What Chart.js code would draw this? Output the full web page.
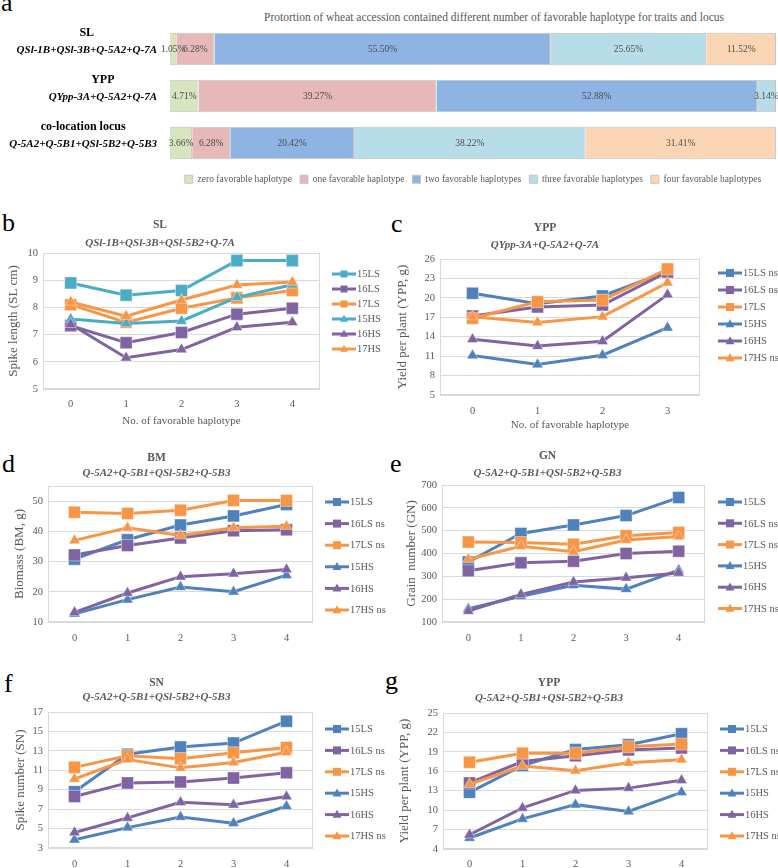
<!DOCTYPE html>
<html>
<head>
<meta charset="utf-8">
<script src="https://cdn.jsdelivr.net/npm/chart.js@4/dist/chart.umd.min.js"></script>
<style>
  html, body { margin: 0; padding: 0; background: #fff; }
  #page { position: relative; width: 778px; height: 868px; overflow: hidden; font-family: "Liberation Serif", serif; }
  canvas, .tag, .note { position: absolute; }
  .tag { font-size: 26px; line-height: 26px; color: #000; }
  .note { font-size: 11.5px; line-height: 12px; color: #595959; white-space: nowrap; }
</style>
</head>
<body>
<div id="page">
  <div class="tag" style="left:1px;top:-10px">a</div>
  <div class="tag" style="left:2px;top:210px">b</div>
  <div class="tag" style="left:391px;top:211px">c</div>
  <div class="tag" style="left:2px;top:451px">d</div>
  <div class="tag" style="left:390px;top:451px">e</div>
  <div class="tag" style="left:4px;top:671px">f</div>
  <div class="tag" style="left:385px;top:668px">g</div>
  <div class="note" style="left:264px;top:11px">Protortion of wheat accession contained different number of favorable haplotype for traits and locus</div>
</div>
<script>
// ---- panel a: share of accessions (%) ----
const haploTraits = ['SL', 'YPP', 'co-location locus'];
const haploLoci = ['QSl-1B+QSl-3B+Q-5A2+Q-7A', 'QYpp-3A+Q-5A2+Q-7A', 'Q-5A2+Q-5B1+QSl-5B2+Q-5B3'];
const haploGroups = ['zero favorable haplotype', 'one favorable haplotype', 'two favorable haplotypes',
  'three favorable haplotypes', 'four favorable haplotypes'];
const zeroFav = [1.05, 4.71, 3.66];
const oneFav = [6.28, 39.27, 6.28];
const twoFav = [55.50, 52.88, 20.42];
const threeFav = [25.65, 3.14, 38.22];
const fourFav = [11.52, 0, 31.41];
const haploColors = ['#d7e4bd', '#e6b9b8', '#8eb4e3', '#b7dee8', '#fcd5b5'];

// ---- panels b-g: trait means by number of favorable haplotypes ----
const haps5 = ['0', '1', '2', '3', '4'];
const haps4 = ['0', '1', '2', '3'];
const slNames = ['15LS', '16LS', '17LS', '15HS', '16HS', '17HS'];
const yppNames = ['15LS ns', '16LS ns', '17LS', '15HS', '16HS', '17HS ns'];
const locusNames = ['15LS', '16LS ns', '17LS ns', '15HS', '16HS', '17HS ns'];

// series order: 15LS, 16LS, 17LS, 15HS, 16HS, 17HS
const slValues = [
  [8.9, 8.45, 8.62, 9.72, 9.72],
  [7.33, 6.7, 7.08, 7.75, 7.97],
  [8.1, 7.45, 7.97, 8.35, 8.62],
  [7.57, 7.41, 7.5, 8.37, 8.83],
  [7.38, 6.15, 6.45, 7.27, 7.45],
  [8.2, 7.68, 8.27, 8.82, 8.93]
];
const ypp3Values = [
  [20.7, 19.1, 20.3, 24.1],
  [17.2, 18.6, 18.9, 24.0],
  [16.85, 19.4, 19.65, 24.45],
  [11.1, 9.7, 11.15, 15.4],
  [13.6, 12.55, 13.3, 20.5],
  [17.1, 16.2, 17.1, 22.35]
];
const bmValues = [
  [30.8, 37.2, 42.1, 45.1, 48.9],
  [32.2, 35.3, 37.8, 40.2, 40.5],
  [46.3, 45.9, 47.0, 50.2, 50.2],
  [12.7, 17.4, 21.6, 20.0, 25.5],
  [13.2, 19.6, 25.0, 26.0, 27.4],
  [37.0, 41.2, 38.6, 41.2, 41.7]
];
const gnValues = [
  [363, 488, 525, 566, 645],
  [324, 359, 366, 400, 410],
  [450, 448, 441, 478, 492],
  [158, 213, 261, 244, 327],
  [148, 221, 275, 294, 315],
  [375, 432, 408, 459, 474]
];
const snValues = [
  [8.8, 12.65, 13.4, 13.8, 16.05],
  [8.3, 9.7, 9.8, 10.2, 10.75],
  [11.3, 12.5, 12.2, 12.8, 13.35],
  [3.85, 5.1, 6.2, 5.55, 7.3],
  [4.6, 6.1, 7.7, 7.45, 8.3],
  [10.1, 12.1, 11.25, 11.8, 12.85]
];
const ypp4Values = [
  [12.75, 16.9, 19.35, 20.1, 21.8],
  [14.2, 17.5, 18.4, 19.3, 19.6],
  [17.4, 18.8, 18.8, 19.8, 20.2],
  [5.7, 8.65, 10.85, 9.8, 12.75],
  [6.2, 10.35, 13.05, 13.4, 14.6],
  [14.0, 16.8, 16.1, 17.3, 17.8]
];

Chart.defaults.font.family = '"Liberation Serif", "Times New Roman", serif';
Chart.defaults.color = '#595959';

const page = document.getElementById('page');
function addCanvas(left, top, w, h) {
  const cv = document.createElement('canvas');
  cv.width = w; cv.height = h;
  cv.style.left = left + 'px'; cv.style.top = top + 'px';
  cv.style.width = w + 'px'; cv.style.height = h + 'px';
  page.appendChild(cv);
  return cv;
}

// two-line row labels left of the bars
const rowLabels = {
  id: 'rowLabels',
  afterDraw(chart) {
    const ctx = chart.ctx, y = chart.scales.y;
    haploTraits.forEach((t, i) => {
      const yc = y.getPixelForValue(i);
      ctx.save();
      ctx.fillStyle = '#000';
      ctx.textBaseline = 'middle';
      ctx.font = 'bold italic 11px "Liberation Serif"';
      const w = ctx.measureText(haploLoci[i]).width;
      ctx.textAlign = 'right';
      ctx.fillText(haploLoci[i], 157, yc + 1);
      ctx.font = 'bold 12px "Liberation Serif"';
      ctx.textAlign = 'center';
      ctx.fillText(t, 157 - w / 2, yc - 16);
      ctx.restore();
    });
  }
};

// percentages inside each segment
const barValues = {
  id: 'barValues',
  afterDatasetsDraw(chart) {
    const ctx = chart.ctx;
    ctx.save();
    ctx.font = '9.5px "Liberation Serif"';
    ctx.fillStyle = '#4d4d4d';
    ctx.textAlign = 'center';
    ctx.textBaseline = 'middle';
    chart.data.datasets.forEach((ds, i) => {
      chart.getDatasetMeta(i).data.forEach((bar, j) => {
        const v = ds.data[j];
        if (!v) return;
        const c = bar.getCenterPoint();
        ctx.fillText(v.toFixed(2) + '%', c.x, c.y);
      });
    });
    ctx.restore();
  }
};

new Chart(addCanvas(0, 0, 778, 194), {
  type: 'bar',
  data: {
    labels: haploTraits,
    datasets: [zeroFav, oneFav, twoFav, threeFav, fourFav].map((vals, i) => ({
      label: haploGroups[i],
      data: vals,
      backgroundColor: haploColors[i],
      borderColor: '#c4c4c4',
      borderWidth: 1,
      barPercentage: 0.69,
      categoryPercentage: 1
    }))
  },
  options: {
    indexAxis: 'y',
    responsive: false,
    animation: false,
    devicePixelRatio: 1,
    layout: { padding: { left: 170, right: 2, top: 25.5, bottom: 0 } },
    scales: {
      x: { stacked: true, min: 0, max: 100, display: false },
      y: { stacked: true, display: false }
    },
    plugins: {
      legend: {
        position: 'bottom',
        labels: { boxWidth: 8, boxHeight: 8, padding: 8, font: { size: 9.5 }, color: '#595959' }
      },
      tooltip: { enabled: false }
    }
  },
  plugins: [rowLabels, barValues]
});

// light frame round the plot area
const plotFrame = {
  id: 'plotFrame',
  beforeDatasetsDraw(chart) {
    const { ctx, chartArea: a } = chart;
    ctx.save();
    ctx.strokeStyle = '#d9d9d9';
    ctx.lineWidth = 1;
    ctx.strokeRect(Math.round(a.left) + 0.5, Math.round(a.top) + 0.5,
      Math.round(a.right - a.left) - 1, Math.round(a.bottom - a.top) - 1);
    ctx.restore();
  }
};

function drawMarker(ctx, style, x, y, s) {
  ctx.beginPath();
  if (style === 'rect') {
    ctx.rect(x - s / 2, y - s / 2, s, s);
  } else {
    ctx.moveTo(x, y - s * 0.6);
    ctx.lineTo(x + s * 0.55, y + s * 0.4);
    ctx.lineTo(x - s * 0.55, y + s * 0.4);
    ctx.closePath();
  }
  ctx.fill();
}

// Excel-like legend: line with marker, then the name
const sideLegend = {
  id: 'sideLegend',
  afterDraw(chart, args, o) {
    const ctx = chart.ctx;
    ctx.save();
    ctx.font = '10.5px "Liberation Serif"';
    ctx.textBaseline = 'middle';
    chart.data.datasets.forEach((ds, i) => {
      const y = o.y + i * o.step;
      ctx.strokeStyle = ds.borderColor;
      ctx.fillStyle = ds.borderColor;
      ctx.lineWidth = 3;
      ctx.beginPath();
      ctx.moveTo(o.x, y);
      ctx.lineTo(o.x + o.len, y);
      ctx.stroke();
      drawMarker(ctx, ds.pointStyle, o.x + o.len / 2, y, o.mark);
      ctx.fillStyle = '#595959';
      ctx.fillText(ds.label, o.x + o.len + 1, y + 0.5);
    });
    ctx.restore();
  }
};

const blue = '#4f81bd', teal = '#4bacc6', purple = '#8064a2', orange = '#f79646';

function lineChart(p) {
  const bottom = p.top + p.height;
  const colors = [p.first, purple, orange];
  new Chart(addCanvas(p.left, p.top, p.width, p.height), {
    type: 'line',
    data: {
      labels: p.labels,
      datasets: p.names.map((name, i) => ({
        label: name,
        data: p.values[i],
        borderColor: colors[i % 3],
        backgroundColor: colors[i % 3],
        pointBackgroundColor: colors[i % 3],
        pointBorderColor: 'rgba(255,255,255,0.4)',
        pointBorderWidth: 1,
        pointStyle: i < 3 ? 'rect' : 'triangle',
        pointRadius: i < 3 ? 8.5 : 6.5,
        borderWidth: 3,
        order: p.names.length - i
      }))
    },
    options: {
      responsive: false,
      animation: false,
      devicePixelRatio: 1,
      layout: { padding: { left: 0, right: p.left + p.width - p.plot[2], top: 0, bottom: 0 } },
      scales: {
        x: {
          offset: true,
          grid: { display: false, drawTicks: false },
          border: { display: false },
          ticks: { padding: p.xLabelY - p.plot[3] - 5.5, font: { size: 10.5 } },
          title: {
            display: !!p.xTitle, text: p.xTitle, font: { size: 11 },
            padding: { top: 0, bottom: p.xTitle ? bottom - p.xTitleY - 6.6 : 0 }
          },
          afterFit: s => { s.height = bottom - p.plot[3]; }
        },
        y: {
          min: p.min, max: p.max,
          grid: { color: '#d9d9d9', drawTicks: false },
          border: { display: false },
          ticks: { stepSize: p.step, padding: 5, font: { size: 10.5 } },
          title: {
            display: true, text: p.yTitle, font: { size: 13 },
            padding: { top: p.yTitleX - p.left - 7.8, bottom: 0 }
          },
          afterFit: s => { s.width = p.plot[0] - p.left; }
        }
      },
      plugins: {
        legend: { display: false },
        tooltip: { enabled: false },
        title: {
          display: true, text: p.title, color: '#595959',
          font: { size: 11.5, weight: 'bold' },
          padding: { top: p.titleY - p.top - 6.9, bottom: Math.max(0, p.subY - p.titleY - 13.5) }
        },
        subtitle: {
          display: true, text: p.sub, color: '#595959',
          font: { size: 11, weight: 'bold', style: 'italic' },
          padding: { top: 0, bottom: p.plot[1] - p.subY - 6.6 }
        },
        sideLegend: {
          x: p.legend[0] - p.left, y: p.legend[1] - p.top, step: p.legend[2],
          len: 24, mark: p.legend[3]
        }
      }
    },
    plugins: [plotFrame, sideLegend]
  });
}

const locus4 = 'Q-5A2+Q-5B1+QSl-5B2+Q-5B3';
const xName = 'No. of favorable haplotype';

lineChart({ left: 0, top: 212, width: 390, height: 218, plot: [43, 253, 320, 389],
  title: 'SL', sub: 'QSl-1B+QSl-3B+QSl-5B2+Q-7A', titleY: 225, subY: 243,
  yTitle: 'Spike length (SL cm)', yTitleX: 14, min: 5, max: 10, step: 1,
  xTitle: xName, xLabelY: 403, xTitleY: 421,
  labels: haps5, names: slNames, values: slValues, first: teal, legend: [332, 274, 15, 7] });

lineChart({ left: 390, top: 214, width: 388, height: 220, plot: [440, 259, 700, 395],
  title: 'YPP', sub: 'QYpp-3A+Q-5A2+Q-7A', titleY: 228, subY: 245,
  yTitle: 'Yield per plant (YPP, g)', yTitleX: 403, min: 5, max: 26, step: 3,
  xTitle: xName, xLabelY: 410, xTitleY: 425,
  labels: haps4, names: yppNames, values: ypp3Values, first: blue, legend: [718, 273, 17, 8] });

lineChart({ left: 0, top: 444, width: 390, height: 203, plot: [48, 486, 313, 622],
  title: 'BM', sub: locus4, titleY: 458, subY: 473,
  yTitle: 'Biomass (BM, g)', yTitleX: 20, min: 10, max: 55, step: 5,
  xLabelY: 637, labels: haps5, names: locusNames, values: bmValues, first: blue, legend: [325, 502, 21.6, 8] });

lineChart({ left: 390, top: 442, width: 388, height: 205, plot: [442, 485, 705, 622],
  title: 'GN', sub: locus4, titleY: 456, subY: 473,
  yTitle: 'Grain  number (GN)', yTitleX: 412, min: 100, max: 700, step: 100,
  xLabelY: 637, labels: haps5, names: locusNames, values: gnValues, first: blue, legend: [718, 502, 21.3, 8] });

lineChart({ left: 0, top: 668, width: 390, height: 200, plot: [48, 712, 313, 848],
  title: 'SN', sub: locus4, titleY: 683, subY: 697,
  yTitle: 'Spike number (SN)', yTitleX: 21, min: 3, max: 17, step: 2,
  xLabelY: 863, labels: haps5, names: locusNames, values: snValues, first: blue, legend: [325, 729, 21.4, 8] });

lineChart({ left: 390, top: 668, width: 388, height: 200, plot: [443, 713, 708, 849],
  title: 'YPP', sub: locus4, titleY: 683, subY: 698,
  yTitle: 'Yield per plant (YPP, g)', yTitleX: 405, min: 4, max: 25, step: 3,
  xLabelY: 863, labels: haps5, names: locusNames, values: ypp4Values, first: blue, legend: [720, 729, 21.4, 8] });
</script>
</body>
</html>
